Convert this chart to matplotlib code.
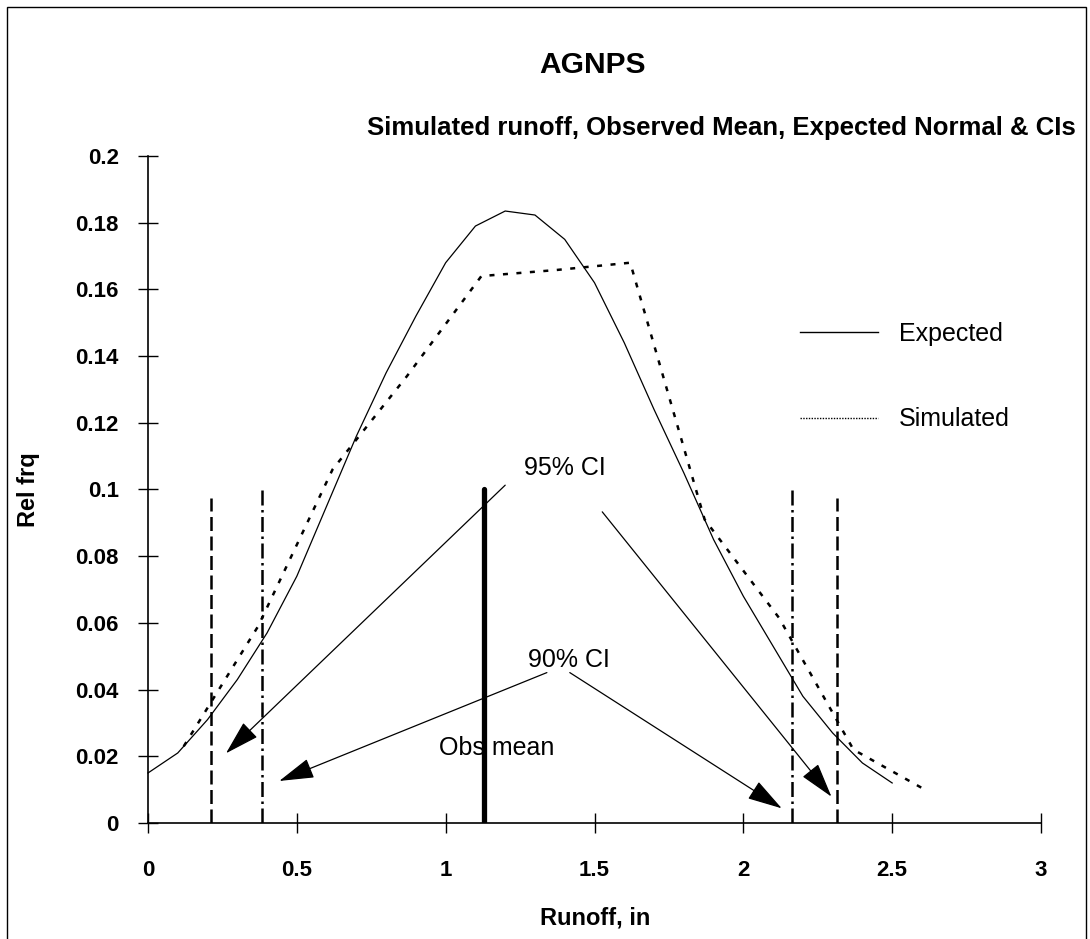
import matplotlib
matplotlib.use("Agg")
import matplotlib.pyplot as plt
from matplotlib.lines import Line2D
from matplotlib.patches import Rectangle

plt.rcParams['font.family'] = ['Liberation Sans', 'DejaVu Sans']

# ---- data ----
expected_x = [0.0, 0.1, 0.2, 0.3, 0.4, 0.5, 0.6, 0.7, 0.8, 0.9, 1.0, 1.1, 1.2,
              1.3, 1.4, 1.5, 1.6, 1.7, 1.8, 1.9, 2.0, 2.1, 2.2, 2.3, 2.4, 2.5]
expected_y = [0.015, 0.021, 0.031, 0.043, 0.057, 0.074, 0.095, 0.116, 0.135,
              0.152, 0.168, 0.179, 0.1835, 0.1823, 0.175, 0.162, 0.144, 0.124,
              0.105, 0.085, 0.068, 0.053, 0.038, 0.027, 0.018, 0.012]

simulated_x = [0.12, 0.37, 0.62, 0.87, 1.12, 1.37, 1.62, 1.87, 2.12, 2.37, 2.62]
simulated_y = [0.023, 0.059, 0.106, 0.134, 0.164, 0.1658, 0.168, 0.091, 0.0615,
               0.022, 0.0095]

ci95_x = [0.212, 2.314]
ci95_top = 0.0975
ci90_x = [0.383, 2.163]
ci90_top = 0.100
obs_mean_x = 1.129
obs_mean_top = 0.100

x_ticks = [0, 0.5, 1, 1.5, 2, 2.5, 3]
x_tick_labels = ['0', '0.5', '1', '1.5', '2', '2.5', '3']
y_ticks = [0, 0.02, 0.04, 0.06, 0.08, 0.1, 0.12, 0.14, 0.16, 0.18, 0.2]
y_tick_labels = ['0', '0.02', '0.04', '0.06', '0.08', '0.1', '0.12', '0.14',
                 '0.16', '0.18', '0.2']

# annotation arrows: (start point near label) -> (tip)
arrows_95 = [((1.20, 0.1013), (0.262, 0.0209)), ((1.526, 0.0933), (2.296, 0.0079))]
arrows_90 = [((1.34, 0.0451), (0.441, 0.0126)), ((1.417, 0.0451), (2.129, 0.0044))]

W, H = 1090, 939
fig = plt.figure(figsize=(W / 100, H / 100), dpi=100)
fig.patch.set_facecolor('white')

ax = fig.add_axes([148 / W, (H - 823) / H, (1041 - 148) / W, (823 - 156) / H])
ax.set_xlim(0, 3)
ax.set_ylim(0, 0.2)
for s in ['top', 'right']:
    ax.spines[s].set_visible(False)
for s in ['left', 'bottom']:
    ax.spines[s].set_linewidth(1.2)

ax.set_xticks(x_ticks)
ax.set_xticklabels(x_tick_labels)
ax.set_yticks(y_ticks)
ax.set_yticklabels(y_tick_labels)
ax.tick_params(axis='both', direction='inout', length=14, width=1.0,
               labelsize=16)
ax.tick_params(axis='x', pad=20)
ax.tick_params(axis='y', pad=14)
for lab in ax.get_xticklabels() + ax.get_yticklabels():
    lab.set_fontweight('bold')

# curves
ax.plot(expected_x, expected_y, color='black', lw=0.9, solid_joinstyle='miter',
        clip_on=False)
ax.plot(simulated_x, simulated_y, color='black', lw=1.8,
        linestyle=(0, (2.0, 3.4)), clip_on=False)

# CI lines
for xv in ci95_x:
    ax.plot([xv, xv], [0, ci95_top], color='black', lw=1.8,
            linestyle=(0, (5.6, 2.2)))
for xv in ci90_x:
    ax.plot([xv, xv], [0, ci90_top], color='black', lw=1.8,
            linestyle=(0, (6.0, 1.8, 1.0, 1.8)))
ax.plot([obs_mean_x, obs_mean_x], [0, obs_mean_top], color='black', lw=3.8,
        solid_capstyle='round')

# arrows
aprops = dict(arrowstyle='-|>,head_length=1.1,head_width=0.32',
              mutation_scale=20, lw=0.9, color='black',
              shrinkA=0, shrinkB=0)
for (start, tip) in arrows_95 + arrows_90:
    ax.annotate('', xy=tip, xytext=start, xycoords='data', textcoords='data',
                arrowprops=aprops)

ax.text(1.401, 0.1064, '95% CI', ha='center', va='center', fontsize=18)
ax.text(1.414, 0.0489, '90% CI', ha='center', va='center', fontsize=18)
ax.text(1.172, 0.0225, 'Obs mean', ha='center', va='center', fontsize=18)

# legend
h_exp = Line2D([], [], color='black', lw=1.0)
h_sim = Line2D([], [], color='black', lw=1.0, linestyle=(0, (1, 1)))
leg = fig.legend([h_exp, h_sim], ['Expected', 'Simulated'],
                 loc='upper left', bbox_to_anchor=(800 / W, 1 - 322 / H),
                 frameon=False, fontsize=18, handlelength=3.1,
                 handletextpad=0.85, labelspacing=2.45, borderpad=0,
                 borderaxespad=0)

# titles and labels
fig.text(593 / W, 1 - 65 / H, 'AGNPS', ha='center', va='center',
         fontsize=21.5, fontweight='bold')
fig.text(1076 / W, 1 - 128 / H,
         'Simulated runoff, Observed Mean, Expected Normal & CIs',
         ha='right', va='center', fontsize=18.5, fontweight='bold')
fig.text(595 / W, 1 - 918 / H, 'Runoff, in', ha='center', va='center',
         fontsize=17, fontweight='bold')
fig.text(28 / W, 1 - 490 / H, 'Rel frq', ha='center', va='center',
         rotation=90, fontsize=17, fontweight='bold')

# outer frame
fig.add_artist(Rectangle((7 / W, -0.01), (1086 - 7) / W, 1.01 - 7 / H,
                         transform=fig.transFigure, fill=False,
                         edgecolor='black', lw=1.0))

fig.savefig('out.png', dpi=100)
